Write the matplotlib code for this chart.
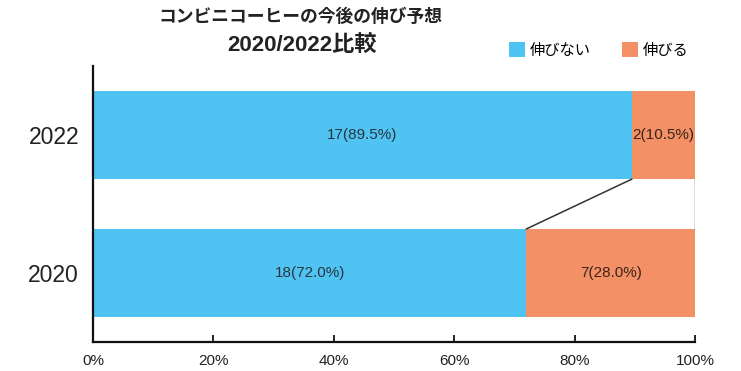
import matplotlib
matplotlib.use("Agg")
import matplotlib.pyplot as plt
import numpy as np

plt.rcParams['font.family'] = ['Liberation Sans', 'Noto Sans CJK JP', 'DejaVu Sans']

years = ['2020', '2022']
no_growth = [18, 17]      # 伸びない
growth = [7, 2]           # 伸びる
series_names = ['伸びない', '伸びる']
colors = ['#4fc3f2', '#f39065']
title_lines = ['コンビニコーヒーの今後の伸び予想', '2020/2022比較']
xticks = [0, 20, 40, 60, 80, 100]

totals = np.array(no_growth) + np.array(growth)
pct_no = np.array(no_growth) / totals * 100
pct_yes = np.array(growth) / totals * 100

fig = plt.figure(figsize=(7.41, 3.71), dpi=100)
ax = fig.add_axes([0.1255, 0.078, 0.8125, 0.744])

y = np.arange(len(years))
h = 0.64
ax.barh(y, pct_no, height=h, color=colors[0], label=series_names[0])
ax.barh(y, pct_yes, left=pct_no, height=h, color=colors[1], label=series_names[1])

# series lines between adjacent bars
for i in range(len(years) - 1):
    ax.plot([pct_no[i], pct_no[i + 1]], [y[i] + h / 2, y[i + 1] - h / 2],
            color='#333333', lw=1.1, zorder=3)
    ax.plot([100, 100], [y[i] + h / 2, y[i + 1] - h / 2],
            color='#555555', lw=1.0, zorder=3)

for i in range(len(years)):
    ax.text(pct_no[i] / 2, y[i], f'{no_growth[i]}({pct_no[i]:.1f}%)',
            ha='center', va='center', fontsize=11, color='#2a3540')
    ax.text(pct_no[i] + pct_yes[i] / 2, y[i], f'{growth[i]}({pct_yes[i]:.1f}%)',
            ha='center', va='center', fontsize=11, color='#3a2418')

ax.set_xlim(0, 100)
ax.set_ylim(-0.5, 1.5)
ax.set_yticks(y)
ax.set_yticklabels(years, fontsize=16.5, color='#222222')
ax.set_xticks(xticks)
ax.set_xticklabels([f'{t}%' for t in xticks], fontsize=11, color='#222222')
ax.tick_params(axis='y', length=0, pad=10)
ax.tick_params(axis='x', direction='in', length=5, width=1.2, pad=8.5)
for s in ['top', 'right']:
    ax.spines[s].set_visible(False)
for s in ['left', 'bottom']:
    ax.spines[s].set_linewidth(1.6)
    ax.spines[s].set_color('#111111')

fig.text(0.405, 0.955, title_lines[0], ha='center', va='center',
         fontsize=12.8, fontweight='bold', family=['Noto Sans CJK JP'], color='#222222')
fig.text(0.408, 0.878, title_lines[1], ha='center', va='center',
         fontsize=16, fontweight='bold', family=['Liberation Sans', 'Noto Sans CJK JP'],
         color='#222222')

leg = fig.legend(loc='center', bbox_to_anchor=(0.808, 0.865), ncol=2, frameon=False,
                 prop={'family': ['Noto Sans CJK JP'], 'size': 11},
                 handlelength=1.1, handleheight=1.1, handletextpad=0.3, columnspacing=2.0)

fig.savefig('out.png', dpi=100, facecolor='white')
